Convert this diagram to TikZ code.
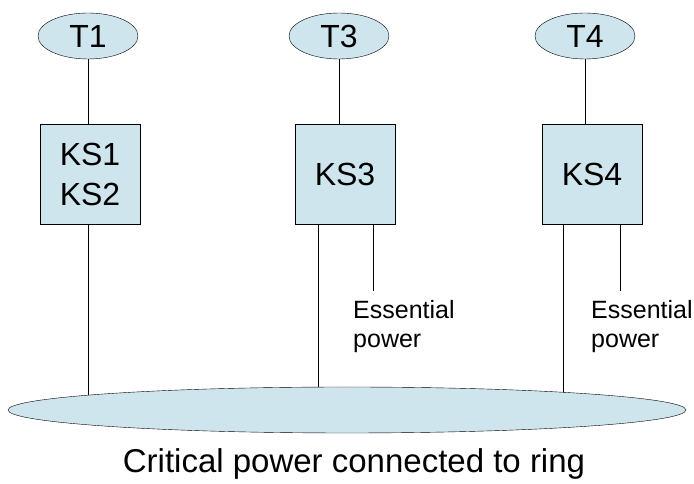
\documentclass[tikz,border=0pt]{standalone}
\usepackage{fontspec}
\setmainfont{Liberation Sans}
\usetikzlibrary{shapes.geometric,backgrounds}
\definecolor{lblue}{HTML}{CFE5EE}
\begin{document}
\begin{tikzpicture}[x=1pt,y=1pt,
  term/.style={ellipse,draw,fill=lblue,minimum width=100pt,minimum height=46pt,inner sep=0pt,font=\fontsize{32}{32}\selectfont},
  ksbox/.style={rectangle,draw,fill=lblue,minimum width=100pt,minimum height=100pt,inner sep=0pt,align=center,font=\fontsize{32}{40}\selectfont},
  esslabel/.style={anchor=base west,inner sep=0pt,align=left,font=\fontsize{25}{29}\selectfont},
  conn/.style={draw,line width=0.9pt}]
\useasboundingbox (0,0) rectangle (694,484);
\node[term] (T1) at (88,448) {T1};
\node[term] (T3) at (339,448) {T3};
\node[term] (T4) at (585,448) {T4};
\node[ksbox] (KS12) at (90,310) {KS1\\KS2};
\node[ksbox] (KS3) at (345,310) {KS3};
\node[ksbox] (KS4) at (592,310) {KS4};
\node[ellipse,draw,fill=lblue,minimum width=678pt,minimum height=46pt,inner sep=0pt] (ring) at (347,74) {};
\node[esslabel] (E3) at (353,136) {Essential\\power};
\node[esslabel] (E4) at (591,136) {Essential\\power};
\node[font=\fontsize{33}{33}\selectfont,anchor=base,inner sep=0pt] (cap) at (354,11) {Critical power connected to ring};
\coordinate (e3) at (373,193);
\coordinate (e4) at (620,193);
\coordinate (r1) at (88,74);
\coordinate (r3) at (318,74);
\coordinate (r4) at (563,74);
\begin{scope}[on background layer]
\path[conn] (T1.south) -- (T1.south |- KS12.north);
\path[conn] (T3.south) -- (T3.south |- KS3.north);
\path[conn] (T4.south) -- (T4.south |- KS4.north);
\path[conn] (r1 |- KS12.south) -- (r1);
\path[conn] (r3 |- KS3.south) -- (r3);
\path[conn] (r4 |- KS4.south) -- (r4);
\path[conn] (e3 |- KS3.south) -- (e3);
\path[conn] (e4 |- KS4.south) -- (e4);
\end{scope}
\end{tikzpicture}
\end{document}
